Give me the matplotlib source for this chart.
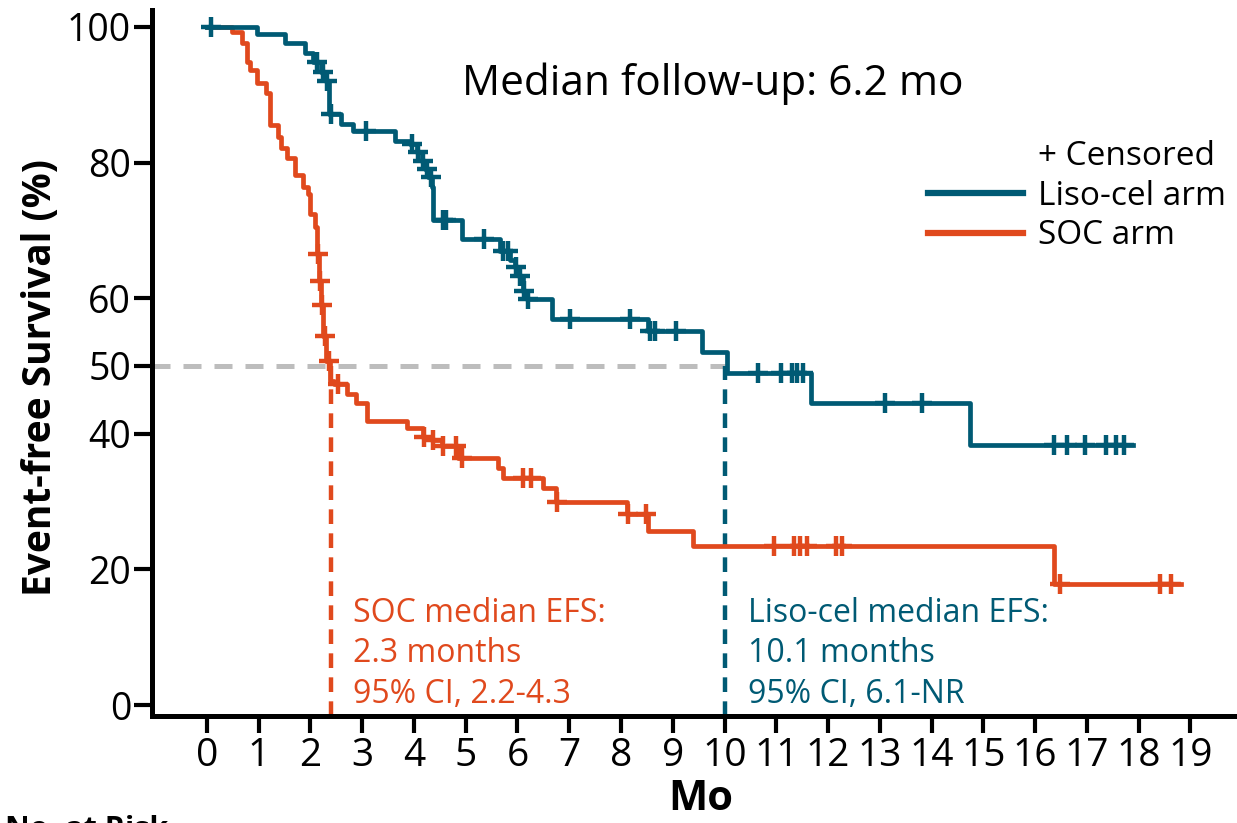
import numpy as np
import matplotlib
matplotlib.use("Agg")
import matplotlib.pyplot as plt
from matplotlib.lines import Line2D

plt.rcParams['font.family'] = ['Open Sans', 'DejaVu Sans']

BLUE = '#005a74'
ORANGE = '#e0491d'
GREY = '#bdbdbd'

# ---- data ----
liso_times = [0, 0.96, 1.51, 1.89, 2.05, 2.20, 2.30, 2.36, 2.60, 2.83, 3.63, 3.92, 4.05,
              4.15, 4.22, 4.28, 4.34, 4.37, 4.92, 5.66, 5.85, 5.95, 6.03, 6.10, 6.18,
              6.66, 8.52, 9.56, 10.04, 11.67, 14.75]
liso_surv = [100, 99.0, 97.7, 96.1, 94.9, 93.4, 92.0, 87.2, 85.7, 84.6, 83.2, 82.8, 81.5,
             80.3, 79.1, 77.9, 76.4, 71.5, 68.7, 66.9, 65.7, 64.6, 63.3, 61.1, 59.9,
             57.0, 55.2, 52.0, 49.0, 44.6, 38.3]
liso_end = 17.9
liso_censor = [0.08, 2.12, 2.24, 2.32, 2.40, 3.07, 3.96, 4.08, 4.18, 4.26, 4.33, 4.56, 4.62,
               5.35, 5.72, 5.82, 5.97, 6.05, 6.12, 6.20, 7.02, 8.17, 8.56, 8.66, 9.07,
               10.65, 11.10, 11.30, 11.40, 11.52, 13.10, 13.82, 16.36, 16.62, 16.96,
               17.37, 17.57, 17.71]

soc_times = [0, 0.48, 0.67, 0.77, 0.83, 0.96, 1.15, 1.22, 1.38, 1.44, 1.54, 1.70, 1.86,
             1.96, 1.99, 2.09, 2.13, 2.17, 2.20, 2.25, 2.31, 2.38, 2.45, 2.70, 2.89, 3.09,
             3.86, 4.18, 4.34, 4.54, 4.85, 5.63, 5.73, 6.50, 6.75, 8.11, 8.53, 9.40, 16.37]
soc_surv = [100, 99.3, 97.6, 94.9, 93.6, 91.7, 90.2, 85.5, 83.8, 82.1, 80.6, 78.1, 76.4,
            75.4, 72.4, 70.5, 66.5, 62.5, 59.0, 54.4, 50.7, 47.8, 47.3, 45.8, 44.6, 41.9,
            40.9, 39.6, 39.1, 38.2, 36.4, 35.0, 33.5, 32.0, 30.0, 28.2, 25.6, 23.5, 17.9]
soc_end = 18.82
soc_censor = [2.15, 2.19, 2.22, 2.28, 2.35, 2.54, 4.19, 4.36, 4.56, 4.82, 4.92, 6.10, 6.27,
              6.76, 8.13, 8.48, 10.96, 11.35, 11.46, 11.60, 12.15, 12.27, 16.48, 18.42, 18.63]

soc_median = 2.4
liso_median = 10.0
xticks = list(range(0, 20))
yticks = [0, 20, 40, 50, 60, 80, 100]


def surv_at(times, surv, t):
    idx = np.searchsorted(np.asarray(times), t, side='right') - 1
    return np.asarray(surv)[idx]


fig = plt.figure(figsize=(12.37, 8.23), dpi=100)
ax = fig.add_axes([152/1237, 107/823, 1 - 152/1237, (715-9)/823])
ax.set_xlim(-1.06, 19.90)
ax.set_ylim(-1.62, 102.5)

# reference lines
ax.plot([ax.get_xlim()[0], liso_median], [50, 50], color=GREY, lw=3.6,
        dashes=(3.6, 2.6), zorder=1)
ax.plot([soc_median, soc_median], [ax.get_ylim()[0], 50], color=ORANGE, lw=3.2,
        dashes=(3.3, 2.1), zorder=1)
ax.plot([liso_median, liso_median], [ax.get_ylim()[0], 50], color=BLUE, lw=3.2,
        dashes=(3.3, 2.1), zorder=1)

# KM curves
for times, surv, end, cens, col in [(soc_times, soc_surv, soc_end, soc_censor, ORANGE),
                                     (liso_times, liso_surv, liso_end, liso_censor, BLUE)]:
    t = list(times) + [end]
    s = list(surv) + [surv[-1]]
    ax.step(t, s, where='post', color=col, lw=3.4, zorder=3)
    ax.plot(cens, surv_at(times, surv, cens), linestyle='none', marker='+',
            markersize=15, markeredgewidth=3.2, color=col, zorder=4)

# axes styling
for side in ['top', 'right']:
    ax.spines[side].set_visible(False)
for side in ['left', 'bottom']:
    ax.spines[side].set_linewidth(3.6)
ax.set_xticks(xticks)
ax.set_xticklabels([str(v) for v in xticks], fontsize=28)
ax.set_yticks(yticks)
ax.set_yticklabels([str(v) for v in yticks], fontsize=27)
ax.tick_params(axis='x', length=12, width=3, pad=3, direction='out')
ax.tick_params(axis='y', length=13, width=3, pad=2, direction='out')
ax.set_xlabel('Mo', fontsize=30, fontweight='bold')
ax.set_ylabel('Event-free Survival (%)', fontsize=28, fontweight='bold')
ax.yaxis.set_label_coords(-0.103, 0.48)
ax.xaxis.set_label_coords(0.506, -0.118)
ax.xaxis.label.set_va('center')
ax.yaxis.label.set_va('center')

# texts
fig.text(462/1237, 1 - 95/823, 'Median follow-up: 6.2 mo', fontsize=30.5,
         va='baseline', ha='left')
ax.text(2.82, 0.3, 'SOC median EFS:\n2.3 months\n95% CI, 2.2-4.3',
        fontsize=23, color=ORANGE, va='baseline', ha='left', linespacing=1.3)
ax.text(10.45, 0.3, 'Liso-cel median EFS:\n10.1 months\n95% CI, 6.1-NR',
        fontsize=23, color=BLUE, va='baseline', ha='left', linespacing=1.3)
fig.text(5/1237, 1 - 815/823, 'No. at Risk', fontsize=22, fontweight='bold',
         va='top', ha='left')

# legend
handles = [Line2D([], [], color='none'),
           Line2D([], [], color=BLUE, lw=4.5),
           Line2D([], [], color=ORANGE, lw=4.5)]
labels = ['+ Censored', 'Liso-cel arm', 'SOC arm']
ax.legend(handles, labels, loc='upper left', bbox_to_anchor=(928/1237, 1 - 140/823),
          bbox_transform=fig.transFigure, frameon=False, fontsize=24,
          handlelength=2.85, handletextpad=0.45, labelspacing=0.2, borderpad=0,
          borderaxespad=0)

fig.savefig('out.png', dpi=100)
